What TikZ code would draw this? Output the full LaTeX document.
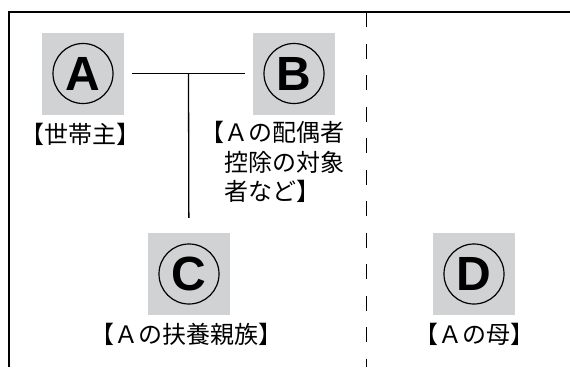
\documentclass[tikz,border=0pt]{standalone}
\usepackage{fontspec}
\newfontfamily\jpfont{Noto Sans CJK JP}
\newfontfamily\letterfont{Liberation Sans}
\usetikzlibrary{calc}
\definecolor{boxgray}{RGB}{209,210,212}
\tikzset{
  graybox/.style={fill=boxgray, minimum size=82pt, inner sep=0pt},
  letterring/.style={circle, draw, line width=1.2pt, minimum size=60pt, inner sep=0pt,
    font=\letterfont\bfseries\fontsize{48}{48}\selectfont},
  labeltext/.style={inner sep=0pt, font=\jpfont\fontsize{24}{29.5}\selectfont},
  linkline/.style={line width=1.3pt},
  frameline/.style={line width=1.3pt}
}

\begin{document}
\begin{tikzpicture}[x=1pt, y=-1pt]
			%%%%% START %%%%%
			\useasboundingbox (0, 0) rectangle (570, 367);
			
			\draw[frameline] (570, 12) -- (9, 12) -- (9, 367);
			\draw[line width=0.9pt, dash pattern=on 15pt off 16.5pt] (366.7, 12) -- (366.7, 367);
			
			\node[graybox] (A) at (83, 73.5) {};
			\node[letterring] (cA) at (A) {A};
			\node[labeltext] (lA) at (80, 134) {【世帯主】};
			
			\node[graybox] (B) at (294, 73.5) {};
			\node[letterring] (cB) at (B) {B};
			\node[labeltext, anchor=west, align=left] (lB) at (224, 162) {\llap{【}Ａの配偶者\\控除の対象\\者など】};
			
			\node[graybox] (C) at (189, 274) {};
			\node[letterring] (cC) at (C) {C};
			\node[labeltext] (lC) at (186, 334) {【Ａの扶養親族】};
			
			\node[graybox] (D) at (474, 274) {};
			\node[letterring] (cD) at (D) {D};
			\node[labeltext] (lD) at (474, 334) {【Ａの母】};
			
			\draw[linkline, shorten <=8pt, shorten >=8pt] (A) -- (B);
			\coordinate (mid) at ($(A)!0.5!(B)$);
			\draw[linkline, shorten >=15pt] (mid) -- (C);
			
			%%%%% END %%%%%
\end{tikzpicture}
\end{document}
